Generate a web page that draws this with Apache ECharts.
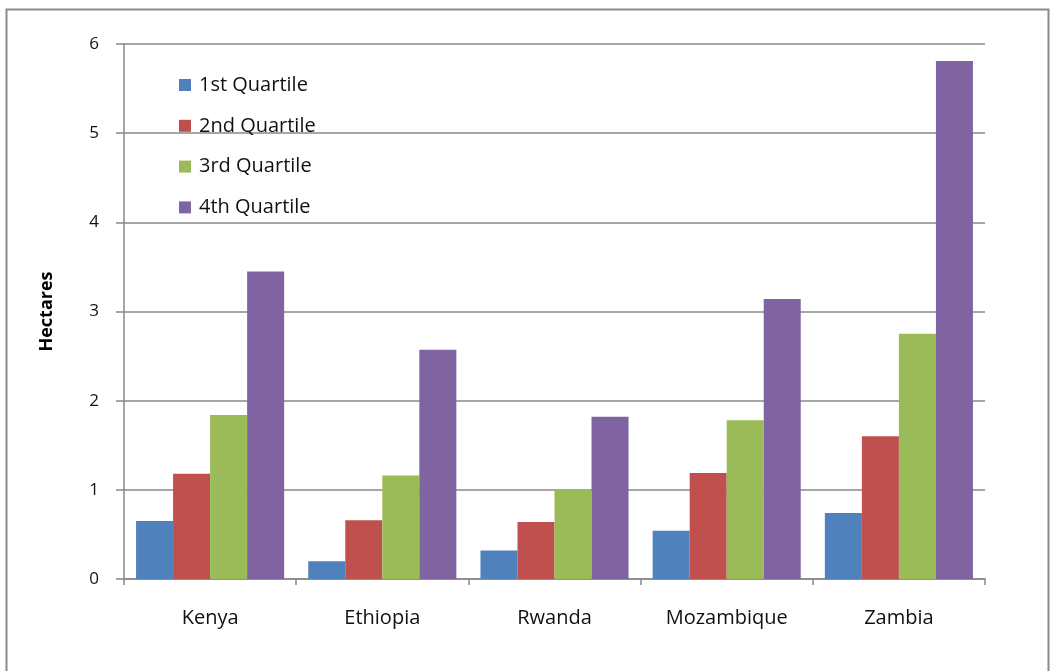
<!DOCTYPE html>
<html>
<head>
<meta charset="utf-8">
<script src="https://cdn.jsdelivr.net/npm/echarts@6/dist/echarts.min.js"></script>
<style>
html,body{margin:0;padding:0;background:#fff;}
#c{width:1050px;height:671px;}
</style>
</head>
<body>
<div id="c"></div>
<script>
const categories = ['Kenya', 'Ethiopia', 'Rwanda', 'Mozambique', 'Zambia'];
const seriesNames = ['1st Quartile', '2nd Quartile', '3rd Quartile', '4th Quartile'];
const q1 = [0.65, 0.20, 0.32, 0.54, 0.74];
const q2 = [1.18, 0.66, 0.64, 1.19, 1.60];
const q3 = [1.84, 1.16, 1.00, 1.78, 2.75];
const q4 = [3.45, 2.57, 1.82, 3.14, 5.81];
const yTicks = [0, 1, 2, 3, 4, 5, 6];
const colors = ['#4F81BD', '#C0504D', '#9BBB59', '#8064A2'];

const font = '"Open Sans", Lato, sans-serif';
const chart = echarts.init(document.getElementById('c'));
const allValues = [q1, q2, q3, q4];
chart.setOption({
  backgroundColor: '#ffffff',
  animation: false,
  graphic: [{
    type: 'rect',
    left: 4, top: 7,
    shape: { width: 1042, height: 680 },
    style: { fill: 'none', stroke: '#8a8a8a', lineWidth: 2 },
    silent: true
  }],
  legend: {
    orient: 'vertical',
    left: 174, top: 68,
    itemWidth: 12, itemHeight: 12,
    itemGap: 16.8,
    icon: 'rect',
    textStyle: { fontFamily: font, fontSize: 20, color: '#111', lineHeight: 24, padding: [0, 0, 0, 3] },
    data: seriesNames
  },
  grid: { left: 124, right: 65, top: 44, bottom: 92, containLabel: false },
  xAxis: {
    type: 'category',
    data: categories,
    axisLine: { lineStyle: { color: '#888', width: 1.5 } },
    axisTick: { show: true, length: 6, lineStyle: { color: '#888', width: 1.5 } },
    axisLabel: { fontFamily: font, fontSize: 20, color: '#111', margin: 29 }
  },
  yAxis: {
    type: 'value',
    min: yTicks[0], max: yTicks[yTicks.length - 1], interval: 1,
    name: 'Hectares',
    nameLocation: 'middle',
    nameGap: 68,
    nameTextStyle: { fontFamily: font, fontSize: 18, fontWeight: 'bold', color: '#000' },
    axisLine: { show: true, lineStyle: { color: '#888', width: 1.5 } },
    axisTick: { show: true, length: 8, lineStyle: { color: '#888', width: 1.5 } },
    axisLabel: { fontFamily: font, fontSize: 17, color: '#111', margin: 25 },
    splitLine: { lineStyle: { color: '#888', width: 1.5 } }
  },
  series: seriesNames.map((n, i) => ({
    name: n,
    type: 'bar',
    data: allValues[i],
    barGap: '0%',
    barCategoryGap: '14%',
    itemStyle: { color: colors[i] }
  }))
});
</script>
</body>
</html>
